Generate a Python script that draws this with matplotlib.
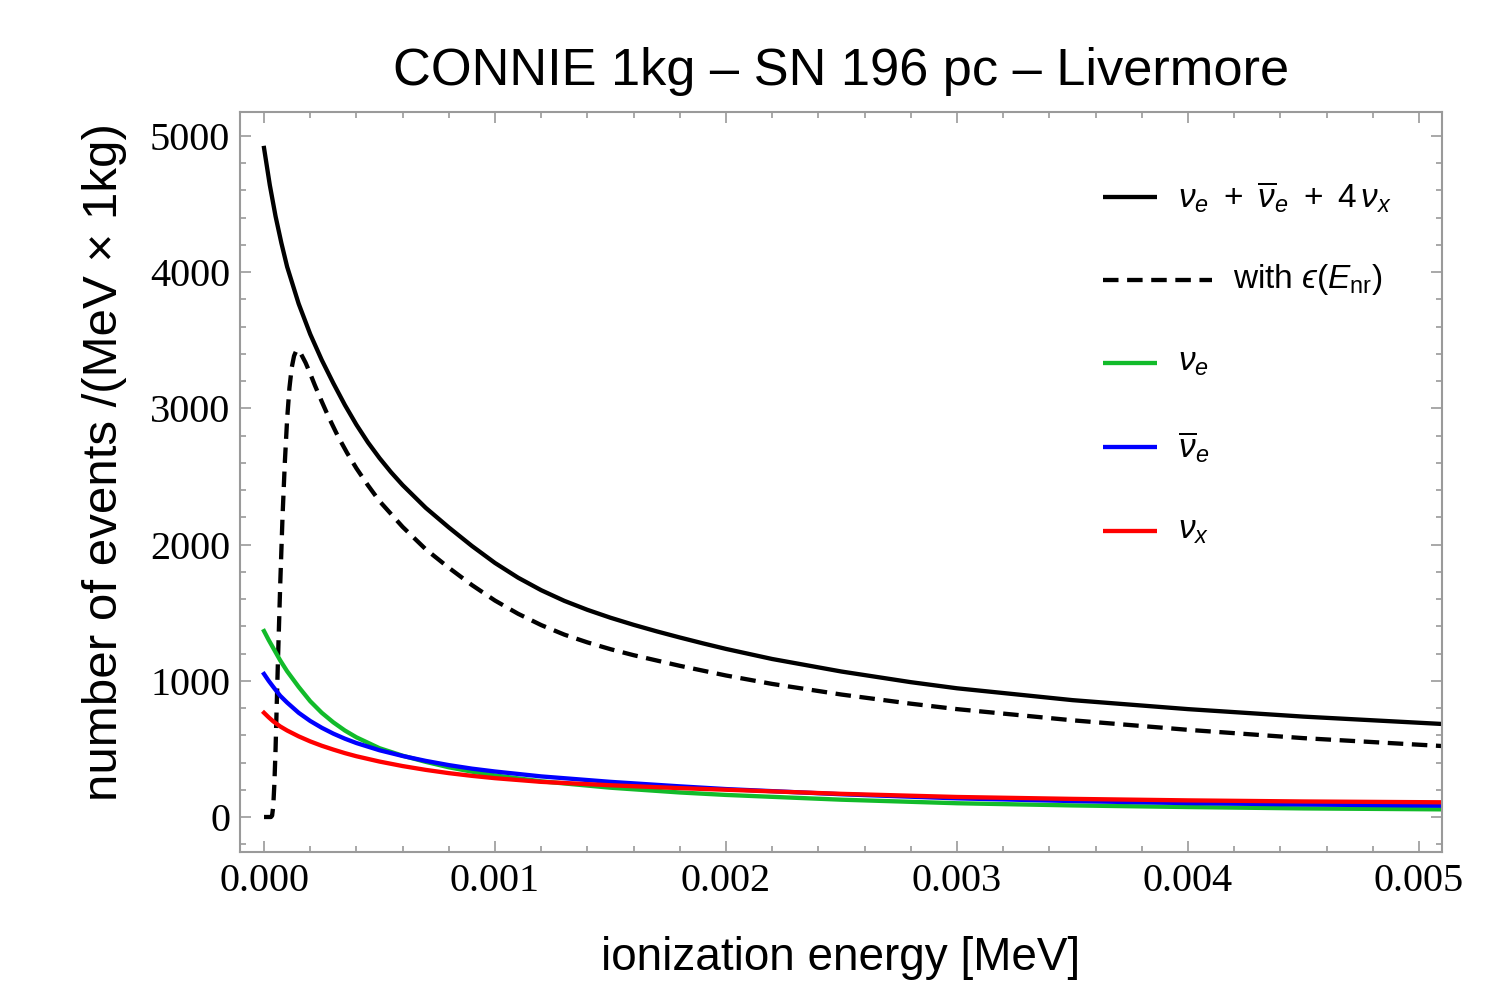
import matplotlib
matplotlib.use("Agg")
import matplotlib.pyplot as plt
from matplotlib.ticker import MultipleLocator

# ---------------- data ----------------
E_total = [0, 0.000025, 0.00005, 0.000075, 0.0001, 0.00015, 0.0002, 0.00025, 0.0003,
           0.00035, 0.0004, 0.00045, 0.0005, 0.00055, 0.0006, 0.0007, 0.0008, 0.0009,
           0.001, 0.0011, 0.0012, 0.0013, 0.0014, 0.0015, 0.0016, 0.0017, 0.0018,
           0.0019, 0.002, 0.0022, 0.0025, 0.0028, 0.003, 0.0035, 0.004, 0.0045, 0.0051]
N_total = [4912, 4640, 4410, 4215, 4040, 3768, 3545, 3355, 3185,
           3025, 2880, 2750, 2635, 2531, 2437, 2270, 2126, 1990,
           1865, 1757, 1665, 1587, 1521, 1463, 1411, 1363, 1318,
           1275, 1234, 1160, 1068, 990, 945, 858, 792, 737, 683]

E_eff = [0, 0.00003, 0.000035, 0.00004, 0.000045, 0.00005, 0.000055, 0.00006, 0.00007,
         0.00008, 0.00009, 0.0001, 0.00011, 0.00012, 0.00013, 0.00014, 0.00015, 0.00016,
         0.00018, 0.0002, 0.00022, 0.00025, 0.00028, 0.00032, 0.00036, 0.0004, 0.00045,
         0.0005, 0.0006, 0.0007, 0.0008, 0.0009, 0.001, 0.0011, 0.0012, 0.0013, 0.0014,
         0.0015, 0.0016, 0.0018, 0.002, 0.0022, 0.0025, 0.0028, 0.003, 0.0035, 0.004,
         0.0045, 0.0051]
N_eff = [0, 0, 10, 80, 250, 500, 820, 1130, 1700,
         2200, 2600, 2920, 3150, 3300, 3385, 3425, 3425, 3400,
         3335, 3255, 3170, 3050, 2935, 2795, 2672, 2560, 2435,
         2319, 2130, 1966, 1830, 1703, 1589, 1492, 1409, 1339, 1282,
         1232, 1188, 1110, 1039, 977, 899, 832, 792, 710, 640,
         579, 521]

E_flav = [0, 0.00002, 0.00004, 0.00007, 0.0001, 0.00015, 0.0002, 0.00025, 0.0003,
          0.00035, 0.0004, 0.0005, 0.0006, 0.0007, 0.0008, 0.0009, 0.001, 0.0012,
          0.0015, 0.0018, 0.002, 0.0025, 0.003, 0.0035, 0.004, 0.0045, 0.0051]
N_nue = [1365, 1300, 1240, 1150, 1070, 955, 850, 765, 695,
         635, 585, 505, 450, 405, 365, 333, 305, 262,
         215, 180, 162, 127, 101, 85, 73, 63, 56]
N_nuebar = [1050, 1000, 955, 890, 840, 765, 705, 655, 612,
            575, 543, 490, 448, 412, 381, 355, 334, 298,
            258, 225, 205, 167, 137, 117, 102, 92, 83]
N_nux = [765, 732, 702, 665, 635, 592, 555, 523, 495,
         469, 446, 407, 374, 346, 322, 302, 285, 258,
         233, 212, 200, 170, 147, 133, 122, 114, 108]

x_ticks = [0.000, 0.001, 0.002, 0.003, 0.004, 0.005]
x_ticklabels = ["0.000", "0.001", "0.002", "0.003", "0.004", "0.005"]
y_ticks = [0, 1000, 2000, 3000, 4000, 5000]
y_ticklabels = ["0", "1000", "2000", "3000", "4000", "5000"]

title = "CONNIE 1kg \u2013 SN 196 pc \u2013 Livermore"
xlabel = "ionization energy [MeV]"
ylabel = "number of events /(MeV \u00d7 1kg)"
legend_labels = [r"$\nu_e\ +\ \overline{\nu}_e\ +\ 4\,\nu_x$",
                 "with $\u03f5(E_{\\rm nr})$",
                 r"$\nu_e$", r"$\overline{\nu}_e$", r"$\nu_x$"]

# ---------------- style ----------------
plt.rcParams["mathtext.fontset"] = "custom"
plt.rcParams["mathtext.rm"] = "Liberation Sans"
plt.rcParams["mathtext.it"] = "Liberation Sans:italic"
plt.rcParams["mathtext.bf"] = "Liberation Sans:bold"
plt.rcParams["mathtext.fallback"] = "stixsans"

GREEN = "#12bb2a"
BLUE = "#0000ff"
RED = "#ff0000"
FRAME = "#9a9a9a"

fig = plt.figure(figsize=(15.05, 9.89), dpi=100)
ax = fig.add_axes([240 / 1505, 1 - 852 / 989, 1202 / 1505, 740 / 989])

lw = 3.1
dash = (0, (3.6, 2.0))
ax.plot(E_total, N_total, color="black", lw=lw)
ax.plot(E_eff, N_eff, color="black", lw=lw, linestyle=dash)
ax.plot(E_flav, N_nue, color=GREEN, lw=lw)
ax.plot(E_flav, N_nuebar, color=BLUE, lw=lw)
ax.plot(E_flav, N_nux, color=RED, lw=lw)

ax.set_xlim(-0.000104, 0.0051)
ax.set_ylim(-257, 5176)

ax.set_xticks(x_ticks)
ax.set_xticklabels(x_ticklabels)
ax.xaxis.set_minor_locator(MultipleLocator(0.0002))
ax.set_yticks(y_ticks)
ax.set_yticklabels(y_ticklabels)
ax.yaxis.set_minor_locator(MultipleLocator(200))

ax.tick_params(which="both", direction="in", top=True, right=True, color=FRAME,
               width=1.2)
ax.tick_params(which="major", length=8, pad=8, labelsize=29)
ax.tick_params(which="minor", length=4.5)
ax.tick_params(axis="y", pad=7)
for lab in ax.get_xticklabels() + ax.get_yticklabels():
    lab.set_fontfamily("Liberation Serif")

for s in ax.spines.values():
    s.set_color(FRAME)
    s.set_linewidth(1.5)

# ---------------- legend (drawn in axes coordinates) ----------------
leg_y = [0.885, 0.773, 0.661, 0.547, 0.434]
leg_x0 = 0.718
leg_x1 = [0.763, 0.8087, 0.763, 0.763, 0.763]
leg_tx = [0.780, 0.826, 0.780, 0.780, 0.780]
leg_col = ["black", "black", GREEN, BLUE, RED]
leg_ls = ["-", dash, "-", "-", "-"]
for i in range(5):
    ax.plot([leg_x0, leg_x1[i]], [leg_y[i], leg_y[i]], transform=ax.transAxes,
            color=leg_col[i], lw=lw, linestyle=leg_ls[i], solid_capstyle="butt",
            clip_on=False)
    ax.text(leg_tx[i], leg_y[i], legend_labels[i], transform=ax.transAxes,
            fontsize=24, family="Liberation Sans", ha="left", va="center")

# ---------------- titles ----------------
fig.text(841 / 1505, 1 - 85 / 989, title, fontsize=37.7, family="Liberation Sans",
         ha="center", va="baseline")
fig.text(841 / 1505, 1 - 970 / 989, xlabel, fontsize=33, family="Liberation Sans",
         ha="center", va="baseline")
fig.text(105 / 1505, 1 - 462 / 989, ylabel, fontsize=35.5, family="Liberation Sans",
         ha="center", va="center", rotation=90)

fig.savefig("out.png", dpi=100, facecolor="white")
